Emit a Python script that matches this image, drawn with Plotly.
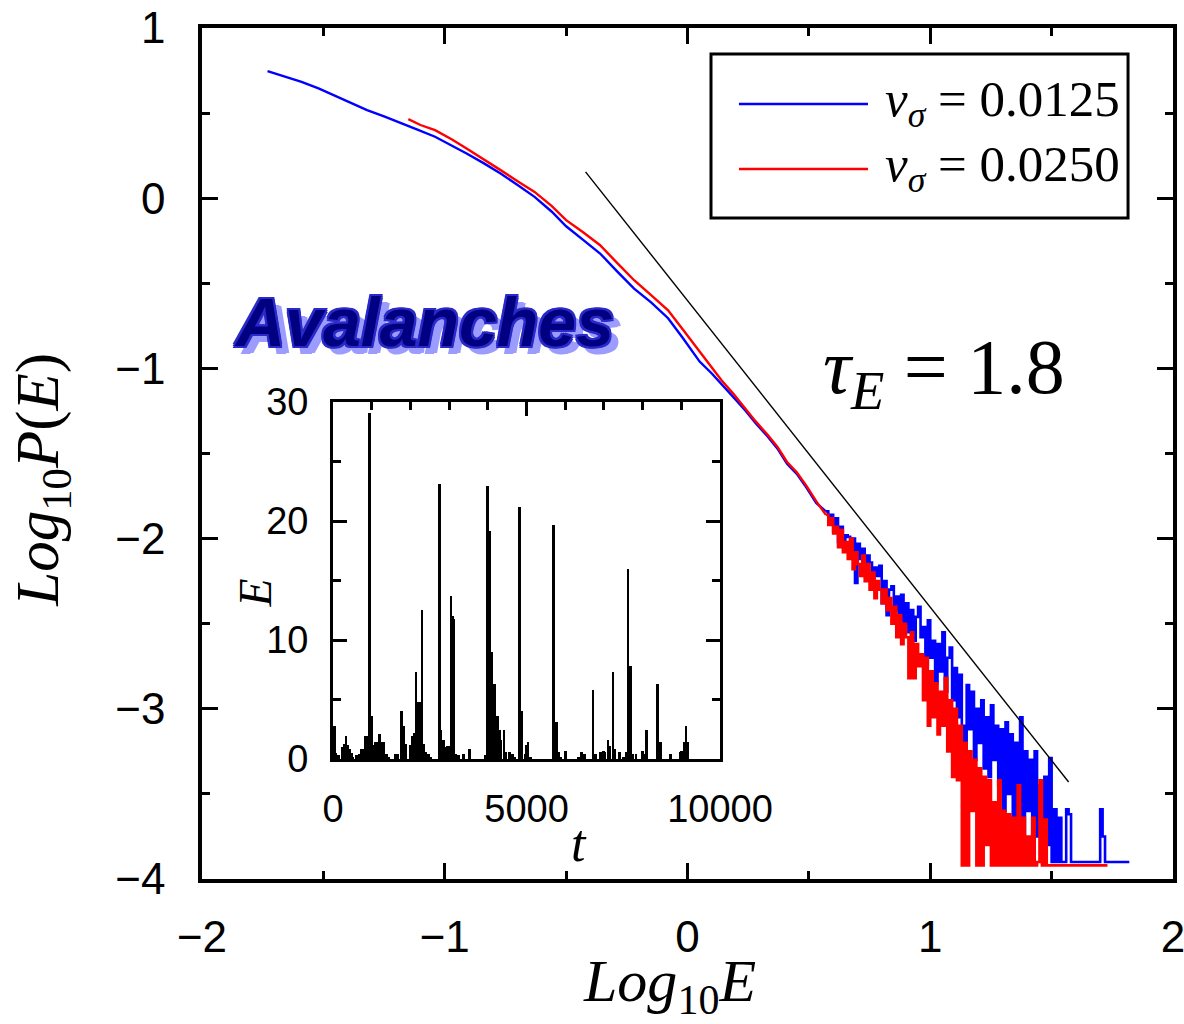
import plotly.graph_objects as go

# ---------------- data ----------------
# main panel: Log10 P(E) vs Log10 E
blue_head_x = [-1.73, -1.66, -1.59, -1.52, -1.46, -1.39, -1.32, -1.25, -1.18, -1.11, -1.04, -0.97,
               -0.91, -0.84, -0.77, -0.70, -0.63, -0.56, -0.50, -0.43, -0.36, -0.29, -0.22, -0.15,
               -0.08, -0.02, 0.05, 0.10, 0.14, 0.19, 0.24, 0.28, 0.33, 0.37, 0.41, 0.45, 0.49, 0.53, 0.57]
blue_head_y = [0.747, 0.715, 0.684, 0.645, 0.606, 0.562, 0.518, 0.481, 0.443, 0.402, 0.361, 0.31,
               0.263, 0.206, 0.145, 0.078, 0.008, -0.078, -0.165, -0.245, -0.325, -0.43, -0.531, -0.612,
               -0.705, -0.82, -0.96, -1.03, -1.09, -1.17, -1.25, -1.32, -1.40, -1.47, -1.56, -1.62, -1.70,
               -1.79, -1.84]

blue_tail = [
    (0.57, -1.84), (0.58, -1.90), (0.59, -1.86), (0.60, -1.96), (0.61, -1.88), (0.62, -2.02),
    (0.63, -1.93), (0.64, -2.05), (0.65, -1.98), (0.66, -1.99), (0.67, -2.10), (0.68, -2.00),
    (0.69, -2.26), (0.70, -2.03), (0.71, -2.12), (0.72, -2.06), (0.73, -2.22), (0.74, -2.10),
    (0.75, -2.14), (0.76, -2.30), (0.77, -2.17), (0.78, -2.22), (0.79, -2.16), (0.80, -2.38),
    (0.81, -2.25), (0.82, -2.45), (0.83, -2.30), (0.84, -2.28), (0.85, -2.42), (0.86, -2.34),
    (0.87, -2.48), (0.88, -2.33), (0.89, -2.50), (0.90, -2.38), (0.91, -2.55), (0.92, -2.42),
    (0.93, -2.60), (0.94, -2.46), (0.95, -2.40), (0.96, -2.58), (0.97, -2.52), (0.98, -2.74),
    (0.99, -2.48), (1.00, -2.70), (1.01, -2.60), (1.02, -2.85), (1.03, -2.62), (1.04, -2.78),
    (1.05, -2.55), (1.06, -2.90), (1.07, -2.70), (1.08, -2.64), (1.09, -2.95), (1.10, -2.76),
    (1.11, -3.05), (1.12, -2.80), (1.13, -3.10), (1.14, -3.90), (1.15, -2.86), (1.16, -3.12),
    (1.17, -2.90), (1.18, -3.30), (1.19, -3.00), (1.20, -3.20), (1.21, -2.95), (1.22, -3.35),
    (1.23, -3.05), (1.24, -3.40), (1.25, -2.98), (1.26, -3.30), (1.27, -3.10), (1.28, -3.45),
    (1.29, -3.12), (1.30, -3.60), (1.31, -3.08), (1.32, -3.50), (1.33, -3.15), (1.34, -3.90),
    (1.35, -3.20), (1.36, -3.70), (1.37, -3.05), (1.38, -3.90), (1.39, -3.25), (1.40, -3.60),
    (1.41, -3.30), (1.42, -3.90), (1.43, -3.25), (1.44, -3.75), (1.45, -3.45), (1.46, -3.90),
    (1.47, -3.40), (1.48, -3.80), (1.49, -3.29), (1.50, -3.90), (1.51, -3.59), (1.52, -3.90),
    (1.53, -3.64), (1.54, -3.90), (1.55, -3.90), (1.56, -3.59), (1.57, -3.62), (1.58, -3.90),
    (1.69, -3.90), (1.70, -3.59), (1.71, -3.75), (1.72, -3.90), (1.82, -3.90),
]

red_head_x = [-1.15, -1.10, -1.04, -0.97, -0.91, -0.84, -0.77, -0.70, -0.63, -0.56, -0.50, -0.43,
              -0.36, -0.29, -0.22, -0.15, -0.08, -0.02, 0.05, 0.10, 0.14, 0.19, 0.24, 0.28, 0.33,
              0.37, 0.41, 0.45, 0.49, 0.53, 0.57]
red_head_y = [0.465, 0.43, 0.40, 0.345, 0.292, 0.23, 0.165, 0.10, 0.037, -0.045, -0.129, -0.20,
              -0.276, -0.38, -0.482, -0.57, -0.659, -0.77, -0.90, -0.99, -1.07, -1.15, -1.24, -1.31,
              -1.39, -1.46, -1.55, -1.61, -1.69, -1.78, -1.86]

red_tail = [
    (0.57, -1.86), (0.58, -1.92), (0.59, -1.88), (0.60, -1.97), (0.61, -1.93), (0.62, -2.05),
    (0.63, -1.95), (0.64, -2.08), (0.65, -2.02), (0.66, -2.12), (0.67, -2.00), (0.68, -2.18),
    (0.69, -2.08), (0.70, -2.15), (0.71, -2.22), (0.72, -2.10), (0.73, -2.25), (0.74, -2.15),
    (0.75, -2.30), (0.76, -2.20), (0.77, -2.35), (0.78, -2.25), (0.79, -2.30), (0.80, -2.38),
    (0.81, -2.30), (0.82, -2.42), (0.83, -2.35), (0.84, -2.50), (0.85, -2.40), (0.86, -2.58),
    (0.87, -2.45), (0.88, -2.62), (0.89, -2.50), (0.90, -2.58), (0.91, -2.82), (0.92, -2.55),
    (0.93, -2.82), (0.94, -2.62), (0.95, -2.75), (0.96, -2.68), (0.97, -2.95), (0.98, -2.70),
    (0.99, -3.10), (1.00, -2.78), (1.01, -3.05), (1.02, -2.85), (1.03, -3.15), (1.04, -2.90),
    (1.05, -3.10), (1.06, -2.82), (1.07, -3.25), (1.08, -2.95), (1.09, -3.40), (1.10, -3.00),
    (1.11, -3.42), (1.12, -3.10), (1.13, -3.92), (1.14, -3.20), (1.15, -3.92), (1.16, -3.25),
    (1.17, -3.60), (1.18, -3.30), (1.19, -3.92), (1.20, -3.35), (1.21, -3.92), (1.22, -3.40),
    (1.23, -3.80), (1.24, -3.42), (1.25, -3.92), (1.26, -3.55), (1.27, -3.92), (1.28, -3.42),
    (1.29, -3.92), (1.30, -3.60), (1.31, -3.92), (1.32, -3.62), (1.33, -3.92), (1.34, -3.64),
    (1.35, -3.92), (1.36, -3.45), (1.37, -3.92), (1.38, -3.64), (1.39, -3.92), (1.40, -3.75),
    (1.41, -3.92), (1.42, -3.64), (1.43, -3.92), (1.44, -3.90), (1.45, -3.42), (1.46, -3.92),
    (1.47, -3.65), (1.48, -3.92), (1.73, -3.92),
]

# power-law guide, slope -tau_E
fit_x = [-0.42, 1.57]
fit_y = [0.155, -3.43]

legend_labels = ["<i>v</i><sub><i>σ</i></sub> = 0.0125", "<i>v</i><sub><i>σ</i></sub> = 0.0250"]

# inset: E(t) time series
inset_t = [40, 80, 150, 250, 300, 335, 380, 420, 470, 520, 600, 680, 720, 780, 840, 890, 945, 990,
           1040, 1090, 1140, 1200, 1260, 1310, 1380, 1450, 1600, 1660, 1770, 1830, 1880, 1990, 2040,
           2090, 2148, 2190, 2234, 2270, 2302, 2340, 2400, 2460, 2530, 2749, 2792, 2850, 2900, 2950,
           3000, 3050, 3085, 3119, 3170, 3250, 3368, 3522, 3950, 3986, 4038, 4070, 4098, 4130, 4167,
           4205, 4244, 4295, 4340, 4416, 4470, 4560, 4640, 4700, 4811, 4850, 4880, 4960, 5043, 5100,
           5704, 5740, 5773, 5830, 5880, 6014, 6350, 6418, 6500, 6718, 6790, 6900, 6960, 7030, 7105,
           7150, 7234, 7290, 7400, 7500, 7580, 7620, 7660, 7700, 7750, 7830, 8030, 8093, 8394, 8440,
           8480, 8720, 8980, 9040, 9080, 9124, 9160]
inset_E = [2.8, 0.5, 0.3, 1.0, 1.3, 1.9, 1.2, 0.8, 0.5, 0.2, 0.3, 0.4, 0.8, 0.8, 1.9, 1.9, 29.1, 3.6,
           1.2, 1.4, 1.4, 2.1, 1.4, 1.4, 0.4, 0.2, 0.4, 0.4, 4.0, 2.8, 1.3, 1.2, 1.9,
           2.2, 7.3, 4.8, 4.8, 2.0, 12.5, 1.3, 0.6, 0.4, 0.2, 23.1, 2.4, 1.6, 1.0, 1.1,
           1.1, 13.7, 12.0, 11.8, 0.4, 0.3, 0.4, 0.8, 0.3, 22.9, 19.2, 9.0, 9.0, 6.3, 6.3,
           3.6, 3.6, 2.4, 1.6, 2.4, 0.6, 0.6, 0.4, 0.2, 21.2, 4.0, 4.0, 0.4, 1.4, 0.2,
           19.7, 3.1, 3.1, 0.6, 0.2, 0.6, 0.2, 0.6, 0.4, 5.8, 0.4, 0.6, 0.6, 0.6, 1.6,
           1.1, 7.3, 0.8, 0.6, 0.2, 0.6, 16.0, 7.8, 7.8, 0.4, 0.4, 0.4, 2.4, 6.3, 1.4,
           1.4, 0.4, 0.6, 0.6, 1.4, 2.8, 1.4]

# ---------------- figure ----------------
fig = go.Figure()
fig.add_trace(go.Scatter(x=blue_head_x, y=blue_head_y, mode="lines",
                         line=dict(color="#0000ff", width=2.4), showlegend=False))
fig.add_trace(go.Scatter(x=[p[0] for p in blue_tail], y=[p[1] for p in blue_tail], mode="lines",
                         line=dict(color="#0000ff", width=2.6, shape="hv"), showlegend=False))
fig.add_trace(go.Scatter(x=red_head_x, y=red_head_y, mode="lines",
                         line=dict(color="#ff0000", width=2.4), showlegend=False))
fig.add_trace(go.Scatter(x=[p[0] for p in red_tail], y=[p[1] for p in red_tail], mode="lines",
                         line=dict(color="#ff0000", width=2.6, shape="hv"), showlegend=False))
fig.add_trace(go.Scatter(x=fit_x, y=fit_y, mode="lines", line=dict(color="black", width=1.4),
                         showlegend=False))
fig.add_trace(go.Bar(x=inset_t, y=inset_E, width=70, marker=dict(color="black", line=dict(width=0)),
                     showlegend=False, xaxis="x2", yaxis="y2"))

tickfont = dict(family="Liberation Sans, Arial, sans-serif", size=44, color="black")
inset_tickfont = dict(family="Liberation Sans, Arial, sans-serif", size=38, color="black")
serif = "Liberation Serif, Times New Roman, serif"

axis_common = dict(showline=True, linecolor="black", mirror="allticks", automargin=False,
                   ticks="inside", tickwidth=3, tickcolor="black", ticklabeloverflow="allow",
                   showgrid=False, zeroline=False)

fig.update_layout(
    width=1184, height=1024,
    margin=dict(l=202, r=11, t=28, b=145),
    paper_bgcolor="white", plot_bgcolor="white",
    bargap=0,
    xaxis=dict(range=[-2, 2], tick0=0, dtick=1, tickfont=tickfont, ticklabelstandoff=16,
               linewidth=3.5, ticklen=16,
               minor=dict(dtick=0.5, ticks="inside", ticklen=8, tickwidth=3, tickcolor="black", showgrid=False),
               domain=[0, 1], anchor="y", **axis_common),
    yaxis=dict(range=[-4, 1], tick0=0, dtick=1, tickfont=tickfont, ticklabelstandoff=24,
               linewidth=3.5, ticklen=16,
               minor=dict(dtick=0.5, ticks="inside", ticklen=8, tickwidth=3, tickcolor="black", showgrid=False),
               domain=[0, 1], anchor="x", **axis_common),
    xaxis2=dict(range=[0, 10000], tickvals=[0, 5000, 10000], tickformat="d", tickfont=inset_tickfont,
                ticklabelstandoff=14, linewidth=3, ticklen=14,
                minor=dict(dtick=1000, ticks="inside", ticklen=8, tickwidth=3, tickcolor="black", showgrid=False),
                domain=[0.135, 0.5335], anchor="y2", **axis_common),
    yaxis2=dict(range=[0, 30], tick0=0, dtick=10, tickfont=inset_tickfont, ticklabelstandoff=14,
                linewidth=3, ticklen=14,
                minor=dict(dtick=5, ticks="inside", ticklen=8, tickwidth=3, tickcolor="black", showgrid=False),
                domain=[0.141, 0.5605], anchor="x2", **axis_common),
)

annotations = [
    # axis titles
    dict(text="<i>Log</i><sub>10</sub><i>E</i>", x=0.481, y=-0.125, xref="paper", yref="paper",
         showarrow=False, font=dict(family=serif, size=60, color="black"), xanchor="center", yanchor="middle"),
    dict(text="<i>Log</i><sub>10</sub><i>P</i>(<i>E</i>)", x=-0.165, y=0.469, xref="paper", yref="paper",
         showarrow=False, textangle=-90, font=dict(family=serif, size=61, color="black"),
         xanchor="center", yanchor="middle"),
    # inset titles
    dict(text="<i>t</i>", x=0.388, y=0.042, xref="paper", yref="paper", showarrow=False,
         font=dict(family=serif, size=52, color="black"), xanchor="center", yanchor="middle"),
    dict(text="<i>E</i>", x=0.055, y=0.336, xref="paper", yref="paper", showarrow=False, textangle=-90,
         font=dict(family=serif, size=46, color="black"), xanchor="center", yanchor="middle"),
    # exponent
    dict(text="<i>τ</i><sub><i>E</i></sub> = 1.8", x=0.764, y=0.596, xref="paper", yref="paper",
         showarrow=False, font=dict(family=serif, size=78, color="black"), xanchor="center", yanchor="middle"),
    # Avalanches word-art
    dict(text="<b><i>Avalanches</i></b>", x=0.229, y=0.655, xref="paper", yref="paper", showarrow=False,
         font=dict(family="Liberation Sans, Arial, sans-serif",
                   size=68, color="#000080",
                   shadow=("2px 0 #2a2ac8, -2px 0 #2a2ac8, 0 2px #2a2ac8, 0 -2px #2a2ac8, "
                           "2px 2px #2a2ac8, -2px -2px #2a2ac8, 2px -2px #2a2ac8, -2px 2px #2a2ac8, "
                           "7px 6px #9c9cff, 9px 7px #9c9cff, 6px 8px #9c9cff")),
         xanchor="center", yanchor="middle"),
    # legend texts
    dict(text=legend_labels[0], x=0.947, y=0.912, xref="paper", yref="paper", showarrow=False,
         font=dict(family=serif, size=51, color="black"), xanchor="right", yanchor="middle"),
    dict(text=legend_labels[1], x=0.947, y=0.835, xref="paper", yref="paper", showarrow=False,
         font=dict(family=serif, size=51, color="black"), xanchor="right", yanchor="middle"),
]

shapes = [
    dict(type="rect", xref="paper", yref="paper", x0=0.5242, x1=0.9537, y0=0.7767, y1=0.9694,
         line=dict(color="black", width=3), fillcolor="white", layer="above"),
    dict(type="line", xref="paper", yref="paper", x0=0.553, x1=0.6859, y0=0.9107, y1=0.9107,
         line=dict(color="#0000ff", width=2.5)),
    dict(type="line", xref="paper", yref="paper", x0=0.553, x1=0.6859, y0=0.8343, y1=0.8343,
         line=dict(color="#ff0000", width=2.5)),
]
fig.update_layout(annotations=annotations, shapes=shapes)

fig.write_html("out.html")
